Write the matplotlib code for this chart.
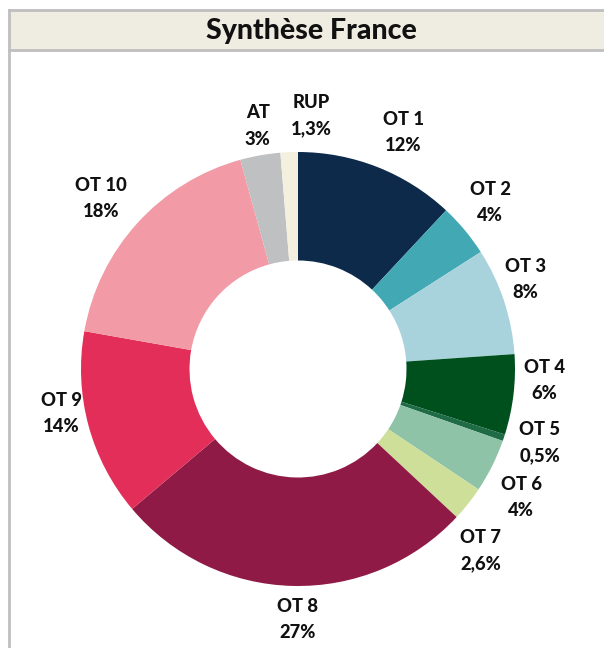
import numpy as np
import matplotlib
matplotlib.use("Agg")
import matplotlib.pyplot as plt
from matplotlib.patches import Rectangle

title = "Synthèse France"
categories = ["OT 1", "OT 2", "OT 3", "OT 4", "OT 5", "OT 6", "OT 7",
              "OT 8", "OT 9", "OT 10", "AT", "RUP"]
values = [12, 4, 8, 6, 0.5, 4, 2.6, 27, 14, 18, 3, 1.3]
value_labels = ["12%", "4%", "8%", "6%", "0,5%", "4%", "2,6%",
                "27%", "14%", "18%", "3%", "1,3%"]
colors = ["#0E2A4B", "#41A8B4", "#A8D3DC", "#00501E", "#1E6B45", "#8EC3A7",
          "#CEDF9A", "#8E1A45", "#E22E58", "#F29AA5", "#BFC0C2", "#F3F0E0"]

W, H = 604, 648
fig = plt.figure(figsize=(W / 100, H / 100), dpi=100)
ax = fig.add_axes([0, 0, 1, 1])

font = "Lato"

cx, cy, R = 298, H - 369, 217
wedges, _ = ax.pie(values, colors=colors, startangle=90, counterclock=False,
                   radius=R, center=(cx, cy), frame=True,
                   wedgeprops=dict(width=R * 0.5, edgecolor="none"))
ax.set_xlim(0, W)
ax.set_ylim(0, H)
ax.set_aspect("equal")
ax.axis("off")

# frame and title bar
border = "#BFBFBF"
ax.add_patch(Rectangle((9, H - 50), W, 40, facecolor="#EFECE2",
                       edgecolor="none", zorder=1))
ax.plot([9, W], [H - 10, H - 10], color=border, lw=2, zorder=2)
ax.plot([9, W], [H - 50, H - 50], color=border, lw=2, zorder=2)
ax.plot([9, 9], [0, H - 10], color=border, lw=2, zorder=2)
ax.text(311, H - 31, title, ha="center", va="center", fontsize=20.5,
        fontweight="black", family=font, color="#111111", zorder=3)

# per-label radial distance and small nudges (pixels)
dist = {"OT 4": 1.14, "OT 9": 1.11, "OT 7": 1.18, "OT 6": 1.18}
nudge = {"RUP": (24, 0), "OT 4": (1, 18), "OT 9": (-4, 18),
         "OT 7": (-18, -23), "OT 6": (-6, -14), "OT 3": (-14, 10),
         "OT 1": (12, -0), "OT 5": (1, 7), "OT 8": (6, 3),
         "OT 10": (-9, 0), "AT": (4, -7), "OT 2": (-3, 4)}
for w, cat, lab in zip(wedges, categories, value_labels):
    mid = np.deg2rad((w.theta1 + w.theta2) / 2)
    d = dist.get(cat, 1.17) * R
    dx, dy = nudge.get(cat, (0, 0))
    x = cx + d * np.cos(mid) + dx
    y = cy + d * np.sin(mid) + dy
    ax.text(x, y, f"{cat}\n{lab}", ha="center", va="center", fontsize=13.2,
            fontweight="black", family=font, color="#111111",
            linespacing=1.65, zorder=4)

fig.savefig("out.png", dpi=100)
